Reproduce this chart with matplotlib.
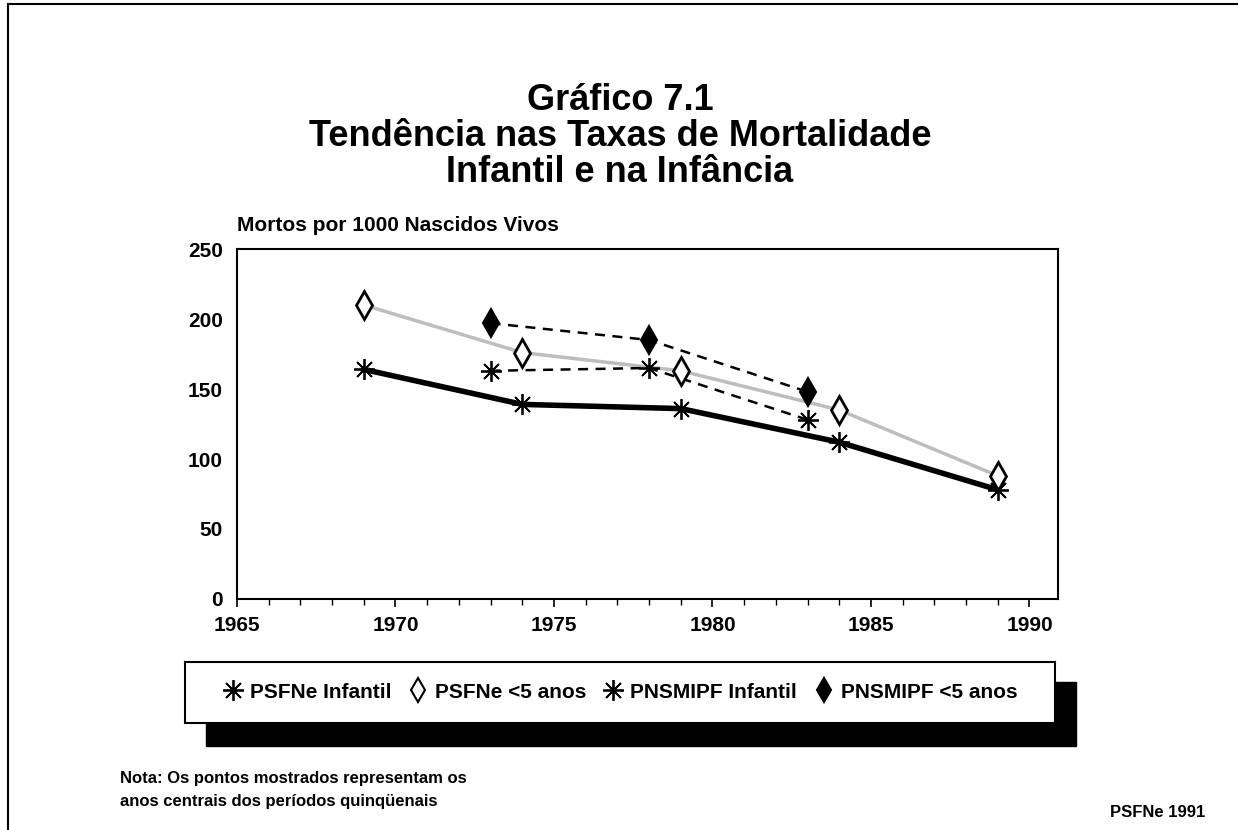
import matplotlib
matplotlib.use("Agg")
import matplotlib.pyplot as plt
from matplotlib.patches import Rectangle
from matplotlib.lines import Line2D

# ---- data ----
psfne_years = [1969, 1974, 1979, 1984, 1989]
psfne_infantil = [164, 139, 136, 112, 78]
psfne_menor5 = [210, 176, 163, 135, 88]
pnsmipf_years = [1973, 1978, 1983]
pnsmipf_infantil = [163, 165, 128]
pnsmipf_menor5 = [197, 185, 148]
series_labels = ["PSFNe Infantil", "PSFNe <5 anos", "PNSMIPF Infantil", "PNSMIPF <5 anos"]
x_ticks = [1965, 1970, 1975, 1980, 1985, 1990]
y_ticks = [0, 50, 100, 150, 200, 250]

plt.rcParams['font.family'] = ['Liberation Sans', 'DejaVu Sans']
plt.rcParams['font.weight'] = 'bold'

W, H = 1238, 830
fig = plt.figure(figsize=(W / 100, H / 100), dpi=100)

def fx(px):
    return px / W

def fy(py):
    return 1 - py / H

# outer frame lines (top & left)
fig.add_artist(Line2D([fx(8), 1], [fy(4), fy(4)], color='black', lw=1.5))
fig.add_artist(Line2D([fx(8), fx(8)], [fy(4), 0], color='black', lw=1.5))

# titles
fig.text(fx(620), fy(100), "Gráfico 7.1", ha='center', va='center', fontsize=26, fontweight='bold')
fig.text(fx(620), fy(137), "Tendência nas Taxas de Mortalidade", ha='center', va='center', fontsize=26, fontweight='bold')
fig.text(fx(620), fy(173), "Infantil e na Infância", ha='center', va='center', fontsize=26, fontweight='bold')

# axes
ax = fig.add_axes([fx(237), fy(599), fx(1058) - fx(237), fy(249) - fy(599)])
ax.set_xlim(1965, 1990.9)
ax.set_ylim(0, 250)

ast = (8, 2, 0)
ax.plot(psfne_years, psfne_menor5, color='#bdbdbd', lw=2.5, zorder=2)
ax.plot(psfne_years, psfne_infantil, color='black', lw=4, zorder=3)
ax.plot(pnsmipf_years, pnsmipf_infantil, color='black', lw=1.8, ls=(0, (4, 3)), zorder=3)
ax.plot(pnsmipf_years, pnsmipf_menor5, color='black', lw=1.8, ls=(0, (4, 3)), zorder=3)

ax.plot(psfne_years, psfne_infantil, ls='none', marker=ast, ms=15, mec='black', mew=1.3, zorder=4)
ax.plot(psfne_years, psfne_menor5, ls='none', marker='d', ms=14, mfc='white', mec='black', mew=2, zorder=4)
ax.plot(pnsmipf_years, pnsmipf_infantil, ls='none', marker=ast, ms=15, mec='black', mew=1.3, zorder=4)
ax.plot(pnsmipf_years, pnsmipf_menor5, ls='none', marker='d', ms=14, mfc='black', mec='black', mew=1.5, zorder=4)

ax.set_xticks(x_ticks)
ax.set_xticks(range(1965, 1991), minor=True)
ax.set_yticks(y_ticks)
ax.tick_params(axis='x', which='major', direction='out', length=6, width=1.2, labelsize=15, pad=6)
ax.tick_params(axis='x', which='minor', direction='out', length=4, width=1)
ax.tick_params(axis='y', length=0, labelsize=15, pad=10)
for lab in ax.get_xticklabels() + ax.get_yticklabels():
    lab.set_fontweight('bold')
for s in ax.spines.values():
    s.set_linewidth(1.5)
    s.set_color('black')

fig.text(fx(237), fy(225), "Mortos por 1000 Nascidos Vivos", ha='left', va='center', fontsize=15, fontweight='bold')

# legend box with shadow
fig.add_artist(Rectangle((fx(206), fy(746)), fx(1076) - fx(206), fy(682) - fy(746),
                         transform=fig.transFigure, facecolor='black', edgecolor='black', zorder=1))
fig.add_artist(Rectangle((fx(185), fy(723)), fx(1055) - fx(185), fy(662) - fy(723),
                         transform=fig.transFigure, facecolor='white', edgecolor='black', lw=1.5, zorder=2))
handles = [
    Line2D([], [], ls='none', marker=ast, ms=15, mec='black', mew=1.3),
    Line2D([], [], ls='none', marker='d', ms=12, mfc='white', mec='black', mew=1.5),
    Line2D([], [], ls='none', marker=ast, ms=15, mec='black', mew=1.3),
    Line2D([], [], ls='none', marker='d', ms=12, mfc='black', mec='black', mew=1.5),
]
leg = fig.legend(handles, series_labels, loc='center', bbox_to_anchor=(fx(620), fy(692)),
                 ncol=4, frameon=False, handlelength=1.0, handletextpad=0.3, columnspacing=0.8,
                 prop={'size': 15, 'weight': 'bold'})
leg.set_zorder(3)

# notes
fig.text(fx(120), fy(778), "Nota: Os pontos mostrados representam os", ha='left', va='center', fontsize=12, fontweight='bold')
fig.text(fx(120), fy(801), "anos centrais dos períodos quinqüenais", ha='left', va='center', fontsize=12, fontweight='bold')
fig.text(fx(1205), fy(812), "PSFNe 1991", ha='right', va='center', fontsize=12, fontweight='bold')

fig.savefig("out.png", dpi=100)
